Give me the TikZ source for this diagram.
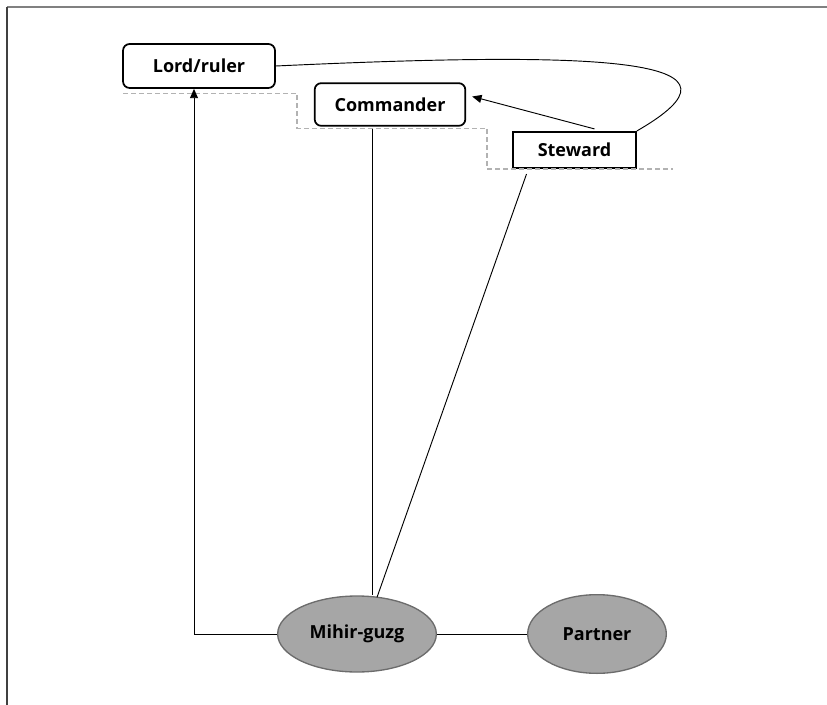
\documentclass[tikz,border=0pt]{standalone}
\usepackage{fontspec}
\setmainfont{Open Sans}
\usepackage{tikz}
\usetikzlibrary{positioning, shapes.geometric, arrows.meta}

\tikzset{
  rankbox/.style={draw, line width=1.3pt, rounded corners=5pt, font=\bfseries\fontsize{13.5}{16}\selectfont, inner sep=0pt},
  stewbox/.style={draw, line width=1.6pt, font=\bfseries\fontsize{13.5}{16}\selectfont, inner sep=0pt},
  person/.style={ellipse, draw=gray!85!black, line width=1pt, fill=gray!70, font=\bfseries\fontsize{13.5}{16}\selectfont, inner sep=0pt},
  tie/.style={line width=0.7pt},
  tiearrow/.style={line width=0.7pt, -{Triangle[length=7pt, width=6pt]}},
  rankline/.style={dashed, dash pattern=on 3.5pt off 2.5pt, gray!60, line width=0.8pt}
}

\begin{document}
\begin{tikzpicture}[x=0.75pt, y=-0.75pt]
    \useasboundingbox (0,0) rectangle (827,705);

    % Frame
    \draw[gray, line width=1.2pt] (7,7) -- (827,7);
    \draw[black!75, line width=1pt] (7,7) -- (7,705);

    % Ranks
    \node[rankbox, minimum width=114pt, minimum height=33pt] (lord) at (199,66) {Lord/ruler};
    \node[rankbox, minimum width=113pt, minimum height=32pt] (commander) at (390,104.5) {Commander};
    \node[stewbox, minimum width=92pt, minimum height=27pt] (steward) at (574.5,150) {Steward};

    % Dashed steps between the ranks
    \draw[rankline] (123,93.3) -- (297,93.3) -- (297,128.3) -- (487,128.3) -- (487,169) -- (673,169);

    % People
    \node[person, minimum width=119pt, minimum height=57pt] (mihir) at (357,634) {Mihir-guzg};
    \node[person, minimum width=104pt, minimum height=59pt] (partner) at (597,634) {Partner};

    % Ties
    \draw[tiearrow] (mihir.west) -| ([shift={(-5,0)}]lord.south);
    \draw[tie] ([shift={(-18,2)}]commander.south) -- ([shift={(15,0)}]mihir.north);
    \draw[tie] ([shift={(-48,5)}]steward.south) -- ([shift={(20,2)}]mihir.north);
    \draw[tie] (mihir.east) -- (partner.west);
    \draw[tiearrow] ([shift={(20,-2)}]steward.north) -- ([shift={(6,-8)}]commander.east);
    \draw[tie] (lord.east) .. controls (620,50) and (760,60) .. (steward.north east);
  \end{tikzpicture}
\end{document}
